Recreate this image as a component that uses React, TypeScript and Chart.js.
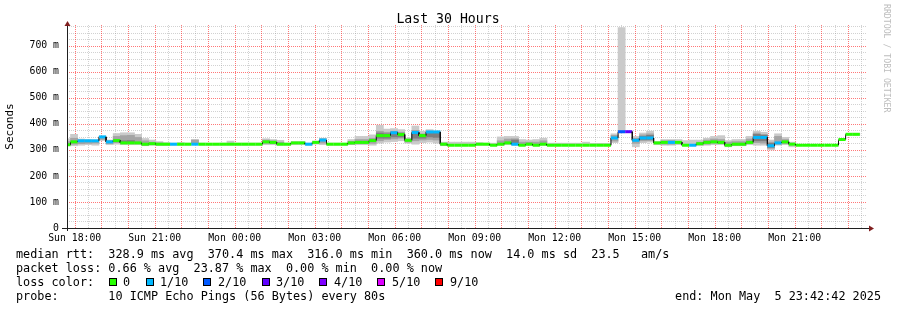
import React, { useEffect, useRef } from "react";
import { Chart, registerables } from "chart.js";

Chart.register(...registerables);

// ---------- time layout (minutes from graph start, Sun 17:42:42) ----------
const SPAN_MIN = 1800; // 30 hours
const STEP_MIN = 16; // consolidation step of the RRA
const FIRST_BUCKET_START = -8.1;
const FIRST_HOUR = 17.3; // Sun 18:00
const X_LABELS = [
  "Sun 18:00", "Sun 21:00", "Mon 00:00", "Mon 03:00", "Mon 06:00",
  "Mon 09:00", "Mon 12:00", "Mon 15:00", "Mon 18:00", "Mon 21:00",
];

// ---------- y layout (ms) ----------
const Y_MAX = 780;
const Y_MAJOR = 100;
const Y_MINOR = 25;

// ---------- data per 16-min bucket ----------
const medianMs = [
  320, 331, 335, 335, 335, 350, 331, 336, 327, 327,
  327, 322, 324, 322, 322, 322, 322, 322, 322, 322,
  322, 322, 322, 322, 322, 322, 322, 322, 331, 329,
  322, 322, 327, 327, 322, 329, 338, 322, 322, 322,
  327, 329, 329, 336, 355, 355, 366, 359, 337, 367,
  355, 369, 369, 322, 318, 318, 318, 318, 322, 322,
  318, 322, 327, 322, 318, 322, 318, 322, 318, 318,
  318, 318, 318, 318, 318, 318, 318, 346, 370, 370,
  337, 346, 346, 327, 329, 329, 329, 318, 318, 324,
  329, 331, 329, 318, 322, 322, 329, 348, 348, 316,
  327, 331, 322, 318, 318, 318, 318, 318, 318, 340,
  360, 360,
];

// index into LOSS_COLORS
const lossLevel = [
  0, 0, 1, 1, 1, 1, 1, 0, 0, 0,
  0, 0, 0, 0, 0, 1, 0, 0, 1, 0,
  0, 0, 0, 0, 0, 0, 0, 0, 0, 0,
  0, 0, 0, 0, 1, 0, 1, 0, 0, 0,
  0, 0, 0, 0, 0, 0, 1, 0, 0, 1,
  0, 1, 1, 0, 0, 0, 0, 0, 0, 0,
  0, 0, 0, 1, 0, 0, 0, 0, 0, 0,
  0, 0, 0, 0, 0, 0, 0, 1, 2, 3,
  1, 1, 1, 0, 0, 1, 0, 0, 1, 0,
  0, 0, 0, 0, 0, 0, 0, 1, 1, 1,
  1, 0, 0, 0, 0, 0, 0, 0, 0, 0,
  0, 0,
];

// outer smoke (lightest)
const smokeLo = [
  316, 316, 318, 320, 318, 336, 320, 322, 320, 320,
  320, 316, 318, 318, 318, 318, 318, 318, 320, 318,
  318, 318, 318, 318, 318, 318, 318, 318, 320, 320,
  318, 318, 320, 320, 318, 322, 320, 318, 318, 318,
  320, 320, 320, 318, 326, 330, 332, 335, 326, 322,
  328, 330, 326, 316, 316, 316, 316, 316, 318, 318,
  316, 318, 320, 318, 316, 318, 316, 318, 316, 316,
  316, 316, 316, 316, 316, 316, 316, 328, 365, null,
  312, 328, 330, 320, 318, 318, 320, 316, 316, 316,
  318, 320, 320, 312, 316, 316, 320, 318, 318, 300,
  318, 320, 312, null, null, null, null, null, null, null,
  356, 356,
];
const smokeHi = [
  343, 360, 342, 340, 338, 353, 338, 363, 366, 366,
  360, 344, 338, 332, 328, 326, 328, 326, 340, 326,
  325, 325, 326, 334, 326, 326, 326, 326, 343, 340,
  337, 326, 332, 332, 326, 334, 345, 326, 326, 326,
  340, 352, 352, 358, 395, 380, 382, 378, 345, 392,
  372, 378, 373, 330, 330, 330, 330, 330, 328, 326,
  326, 350, 352, 352, 340, 338, 340, 345, 326, 326,
  326, 326, 326, 330, 325, 325, 325, 362, 770, null,
  352, 365, 372, 332, 340, 340, 340, 336, 338, 338,
  345, 352, 355, 336, 340, 340, 352, 372, 368, 338,
  362, 348, 330, null, null, null, null, null, null, null,
  364, 364,
];
// middle smoke
const smokeMidLo = [
  318, 322, 324, 325, 326, 340, 324, 328, 325, 325,
  324, 318, 320, 319, 319, null, null, null, 322, null,
  null, null, null, null, null, null, null, null, 325, 324,
  320, null, null, null, null, null, 326, null, null, null,
  322, 324, 324, 325, 335, 340, 342, 345, 330, 335,
  338, 340, 338, 318, null, null, null, null, null, null,
  null, 320, 324, 322, 318, 320, 318, 320, null, null,
  null, null, null, null, null, null, null, 334, null, null,
  325, 335, 336, null, 322, 322, null, null, null, 320,
  322, 325, 324, 316, 318, 318, 324, 328, 326, 306,
  322, 324, null, null, null, null, null, null, null, null,
  null, null,
];
const smokeMidHi = [
  332, 345, 338, 337, 336, 350, 335, 352, 355, 356,
  348, 335, 330, 327, 325, null, null, null, 338, null,
  null, null, null, null, null, null, null, null, 338, 335,
  330, null, null, null, null, null, 342, null, null, null,
  333, 340, 340, 345, 372, 368, 372, 368, 342, 375,
  362, 372, 370, 326, null, null, null, null, null, null,
  null, 335, 342, 343, 330, 330, 330, 335, null, null,
  null, null, null, null, null, null, null, 356, null, null,
  345, 358, 362, null, 335, 336, null, null, null, 330,
  338, 342, 340, 330, 332, 332, 342, 365, 360, 330,
  352, 340, null, null, null, null, null, null, null, null,
  null, null,
];
// inner smoke (darkest)
const smokeInLo = [
  null, null, null, null, null, null, null, null, 326, 326,
  null, null, null, null, null, null, null, null, null, null,
  null, null, null, null, null, null, null, null, null, null,
  null, null, null, null, null, null, null, null, null, null,
  null, null, null, null, 345, 345, 350, 350, null, 345,
  345, 350, 348, null, null, null, null, null, null, null,
  null, null, null, 326, null, null, null, null, null, null,
  null, null, null, null, null, null, null, null, null, null,
  null, 340, 340, null, null, null, null, null, null, null,
  null, null, null, null, null, null, null, 335, 335, 310,
  null, null, null, null, null, null, null, null, null, null,
  null, null,
];
const smokeInHi = [
  null, null, null, null, null, null, null, null, 335, 336,
  null, null, null, null, null, null, null, null, null, null,
  null, null, null, null, null, null, null, null, null, null,
  null, null, null, null, null, null, null, null, null, null,
  null, null, null, null, 365, 362, 368, 364, null, 368,
  360, 370, 368, null, null, null, null, null, null, null,
  null, null, null, 338, null, null, null, null, null, null,
  null, null, null, null, null, null, null, null, null, null,
  null, 352, 356, null, null, null, null, null, null, null,
  null, null, null, null, null, null, null, 360, 356, 325,
  null, null, null, null, null, null, null, null, null, null,
  null, null,
];

const LOSS_COLORS = ["#26ff00", "#00b8ff", "#0059ff", "#5e00ff", "#7e00ff", "#dd00ff", "#ff0000"];
const LOSS_LABELS = ["0", "1/10", "2/10", "3/10", "4/10", "5/10", "9/10"];

const TITLE = "Last 30 Hours";
const Y_TITLE = "Seconds";
const WATERMARK = "RRDTOOL / TOBI OETIKER";
const LEGEND_MEDIAN = "median rtt:  328.9 ms avg  370.4 ms max  316.0 ms min  360.0 ms now  14.0 ms sd  23.5   am/s";
const LEGEND_LOSS = "packet loss: 0.66 % avg  23.87 % max  0.00 % min  0.00 % now";
const LEGEND_COLOR = "loss color:";
const LEGEND_PROBE = "probe:       10 ICMP Echo Pings (56 Bytes) every 80s";
const LEGEND_END = "end: Mon May  5 23:42:42 2025";

const MONO = '"DejaVu Sans Mono", monospace';
const MAJOR_GRID = "rgba(255,30,30,0.6)";
const MINOR_GRID = "rgba(143,143,143,0.4)";

const bucketStart = (i: number) => FIRST_BUCKET_START + STEP_MIN * i;

export default function App() {
  const ref = useRef<HTMLCanvasElement>(null);

  useEffect(() => {
    const canvas = ref.current!;

    const lineData: { x: number; y: number }[] = [];
    medianMs.forEach((v, i) => {
      lineData.push({ x: bucketStart(i), y: v });
      lineData.push({ x: bucketStart(i) + STEP_MIN, y: v });
    });
    const band = (lo: (number | null)[], hi: (number | null)[]) =>
      lo
        .map((l, i) => (l == null || hi[i] == null ? null : { x: bucketStart(i) + STEP_MIN / 2, y: [l, hi[i]] }))
        .filter(Boolean);

    const xTicks: number[] = [];
    for (let v = FIRST_HOUR; v <= SPAN_MIN; v += 30) xTicks.push(v);
    const yTicks: number[] = [];
    for (let v = 0; v < Y_MAX; v += Y_MINOR) yTicks.push(v);
    const xIsMajor = (v: number) => Math.round((v - FIRST_HOUR) / 30) % 2 === 0;
    const yIsMajor = (v: number) => v % Y_MAJOR === 0;

    const grid = {
      id: "rrdGrid",
      beforeDatasetsDraw(chart: any) {
        const ctx = chart.ctx as CanvasRenderingContext2D;
        const a = chart.chartArea;
        const xs = chart.scales.x;
        const ys = chart.scales.y;
        ctx.save();
        ctx.lineWidth = 1;
        ctx.setLineDash([1, 1]);
        [false, true].forEach((major) => {
          ctx.strokeStyle = major ? MAJOR_GRID : MINOR_GRID;
          ctx.beginPath();
          xTicks.forEach((v) => {
            if (xIsMajor(v) !== major) return;
            const px = Math.round(xs.getPixelForValue(v)) + 0.5;
            ctx.moveTo(px, a.top);
            ctx.lineTo(px, a.bottom);
          });
          yTicks.forEach((v) => {
            if (yIsMajor(v) !== major || v === 0) return;
            const py = Math.round(ys.getPixelForValue(v)) + 0.5;
            ctx.moveTo(a.left, py);
            ctx.lineTo(a.right, py);
          });
          ctx.stroke();
        });
        ctx.restore();
      },
    };

    const decor = {
      id: "decor",
      afterDraw(chart: any) {
        const ctx = chart.ctx as CanvasRenderingContext2D;
        const a = chart.chartArea;
        ctx.save();
        // title
        ctx.fillStyle = "#000";
        ctx.font = `13.2px ${MONO}`;
        ctx.textAlign = "center";
        ctx.textBaseline = "middle";
        ctx.fillText(TITLE, 448, 20);

        // axes
        ctx.strokeStyle = "#1f1f1f";
        ctx.lineWidth = 1;
        ctx.beginPath();
        ctx.moveTo(Math.round(a.left) + 0.5, a.bottom + 3);
        ctx.lineTo(Math.round(a.left) + 0.5, a.top - 1);
        ctx.moveTo(a.left - 5, Math.round(a.bottom) + 0.5);
        ctx.lineTo(a.right + 2, Math.round(a.bottom) + 0.5);
        ctx.stroke();
        ctx.fillStyle = "#801f1f";
        ctx.beginPath();
        ctx.moveTo(a.left + 0.5, a.top - 4);
        ctx.lineTo(a.left - 2.5, a.top + 1);
        ctx.lineTo(a.left + 3.5, a.top + 1);
        ctx.closePath();
        ctx.fill();
        ctx.beginPath();
        ctx.moveTo(a.right + 7, a.bottom + 0.5);
        ctx.lineTo(a.right + 2, a.bottom - 2.5);
        ctx.lineTo(a.right + 2, a.bottom + 3.5);
        ctx.closePath();
        ctx.fill();

        // watermark
        ctx.save();
        ctx.translate(886, 4);
        ctx.rotate(Math.PI / 2);
        ctx.fillStyle = "#bdbdbd";
        ctx.font = `8.2px ${MONO}`;
        ctx.textAlign = "left";
        ctx.textBaseline = "middle";
        ctx.fillText(WATERMARK, 0, 0);
        ctx.restore();

        // legend
        ctx.fillStyle = "#000";
        ctx.font = `11.8px ${MONO}`;
        ctx.textAlign = "left";
        ctx.textBaseline = "middle";
        ctx.fillText(LEGEND_MEDIAN, 16, 254.5);
        ctx.fillText(LEGEND_LOSS, 16, 268.5);
        ctx.fillText(LEGEND_COLOR, 16, 282.5);
        ctx.fillText(LEGEND_PROBE, 16, 296.5);
        ctx.textAlign = "right";
        ctx.fillText(LEGEND_END, 881, 296.5);
        ctx.textAlign = "left";
        const boxX = [109, 146, 203, 262, 319, 377, 435];
        const labX = [123, 160, 218, 276, 334, 392, 450];
        LOSS_COLORS.forEach((c, i) => {
          ctx.fillStyle = c;
          ctx.fillRect(boxX[i], 278, 7, 8);
          ctx.strokeStyle = "#000";
          ctx.strokeRect(boxX[i] + 0.5, 278.5, 7, 7);
          ctx.fillStyle = "#000";
          ctx.fillText(LOSS_LABELS[i], labX[i], 282.5);
        });
        ctx.restore();
      },
    };

    const smokeDs = (lo: (number | null)[], hi: (number | null)[], color: string, order: number) =>
      ({
        type: "bar",
        data: band(lo, hi),
        backgroundColor: color,
        grouped: false,
        barPercentage: 1,
        categoryPercentage: 1,
        borderWidth: 0,
        order,
        clip: 0,
      } as any);

    const chart = new Chart(canvas, {
      type: "bar",
      data: {
        datasets: [
          smokeDs(smokeLo, smokeHi, "#cacaca", 4),
          smokeDs(smokeMidLo, smokeMidHi, "#a4a4a4", 3),
          smokeDs(smokeInLo, smokeInHi, "#7e7e7e", 2),
          {
            type: "line",
            data: lineData as any,
            pointRadius: 0,
            borderWidth: 3,
            borderColor: LOSS_COLORS[0],
            borderCapStyle: "butt",
            tension: 0,
            order: 1,
            clip: 0,
            segment: {
              borderColor: (c: any) =>
                c.p0DataIndex % 2 === 0 ? LOSS_COLORS[lossLevel[c.p0DataIndex >> 1]] : "#111",
              borderWidth: (c: any) => (c.p0DataIndex % 2 === 0 ? 3 : 1),
            },
          } as any,
        ],
      },
      options: {
        responsive: false,
        animation: false,
        events: [],
        layout: { padding: { top: 25, right: 30, left: 0, bottom: 0 } },
        plugins: { legend: { display: false }, tooltip: { enabled: false }, title: { display: false } },
        scales: {
          x: {
            type: "linear",
            min: 0,
            max: SPAN_MIN,
            offset: false,
            afterBuildTicks: (s: any) => {
              s.ticks = xTicks.map((v) => ({ value: v }));
            },
            afterFit: (s: any) => {
              s.height = 82;
            },
            ticks: {
              autoSkip: false,
              maxRotation: 0,
              minRotation: 0,
              padding: 5,
              color: "#000",
              font: { family: MONO, size: 9.8 },
              callback: (v: any) => {
                const j = Math.round((Number(v) - FIRST_HOUR) / 30);
                return j % 6 === 0 ? X_LABELS[j / 6] ?? "" : "";
              },
            },
            grid: { display: false, offset: false, drawTicks: false },
            border: { display: false },
          },
          y: {
            type: "linear",
            min: 0,
            max: Y_MAX,
            afterBuildTicks: (s: any) => {
              s.ticks = yTicks.map((v) => ({ value: v }));
            },
            afterFit: (s: any) => {
              s.width = 67;
            },
            ticks: {
              autoSkip: false,
              padding: 8,
              color: "#000",
              font: { family: MONO, size: 9.8 },
              callback: (v: any) => {
                const n = Number(v);
                if (n % Y_MAJOR !== 0) return "";
                return n === 0 ? "0" : `${n} m`;
              },
            },
            grid: { display: false, drawTicks: false },
            border: { display: false },
            title: {
              display: true,
              text: Y_TITLE,
              color: "#000",
              font: { family: MONO, size: 11 },
              padding: { top: 4, bottom: 0 },
            },
          },
        },
      },
      plugins: [grid, decor],
    } as any);

    return () => chart.destroy();
  }, []);

  return (
    <div style={{ position: "absolute", left: 0, top: 0, width: 897, height: 310, background: "#fff" }}>
      <canvas ref={ref} width={897} height={310} style={{ display: "block", width: 897, height: 310 }} />
    </div>
  );
}
